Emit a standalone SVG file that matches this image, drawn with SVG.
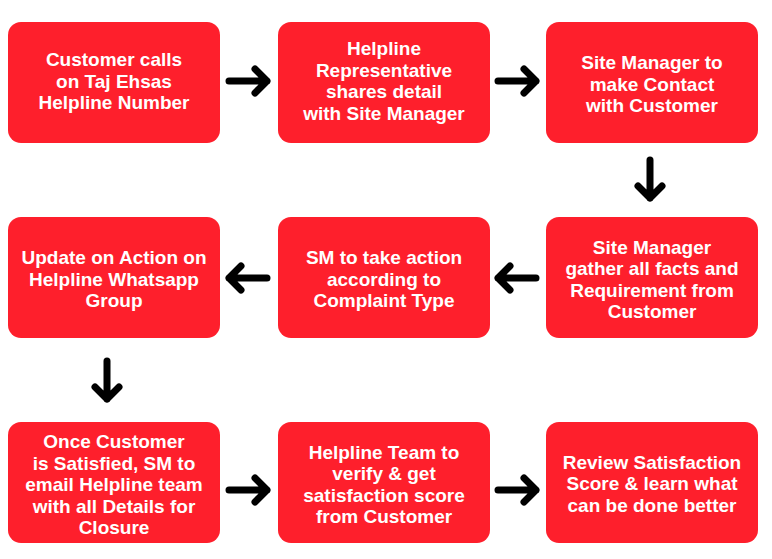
<svg xmlns="http://www.w3.org/2000/svg" width="772" height="559" viewBox="0 0 772 559">
<style>
.box{fill:#FE1F2C;}
.t{font-family:"Liberation Sans",Arial,sans-serif;font-weight:700;font-size:19px;fill:#fff;text-anchor:middle;}
.a{fill:none;stroke:#000;stroke-width:7;stroke-linecap:round;stroke-linejoin:round;}
</style>
<defs>
<path id="ar" class="a" d="M-19,0 H19 M7,-12 L19,0 L7,12"/>
</defs>
<rect width="772" height="559" fill="#fff"/>
<g id="n1"><rect class="box" x="8" y="22" width="212" height="121" rx="13"/>
<text class="t" x="114" y="66">Customer calls</text><text class="t" x="114" y="88">on Taj Ehsas</text><text class="t" x="114" y="109">Helpline Number</text></g>
<g id="n2"><rect class="box" x="278" y="22" width="212" height="121" rx="13"/>
<text class="t" x="384" y="55">Helpline</text><text class="t" x="384" y="77">Representative</text><text class="t" x="384" y="98">shares detail</text><text class="t" x="384" y="120">with Site Manager</text></g>
<g id="n3"><rect class="box" x="546" y="22" width="212" height="121" rx="13"/>
<text class="t" x="652" y="69">Site Manager to</text><text class="t" x="652" y="91">make Contact</text><text class="t" x="652" y="112">with Customer</text></g>
<g id="n4"><rect class="box" x="546" y="217" width="212" height="121" rx="13"/>
<text class="t" x="652" y="254">Site Manager</text><text class="t" x="652" y="275">gather all facts and</text><text class="t" x="652" y="297">Requirement from</text><text class="t" x="652" y="318">Customer</text></g>
<g id="n5"><rect class="box" x="278" y="217" width="212" height="121" rx="13"/>
<text class="t" x="384" y="264">SM to take action</text><text class="t" x="384" y="286">according to</text><text class="t" x="384" y="307">Complaint Type</text></g>
<g id="n6"><rect class="box" x="8" y="217" width="212" height="121" rx="13"/>
<text class="t" x="114" y="264">Update on Action on</text><text class="t" x="114" y="286">Helpline Whatsapp</text><text class="t" x="114" y="307">Group</text></g>
<g id="n7"><rect class="box" x="8" y="422" width="212" height="121" rx="13"/>
<text class="t" x="114" y="448">Once Customer</text><text class="t" x="114" y="470">is Satisfied, SM to</text><text class="t" x="114" y="491">email Helpline team</text><text class="t" x="114" y="513">with all Details for</text><text class="t" x="114" y="534">Closure</text></g>
<g id="n8"><rect class="box" x="278" y="422" width="212" height="121" rx="13"/>
<text class="t" x="384" y="459">Helpline Team to</text><text class="t" x="384" y="480">verify &amp; get</text><text class="t" x="384" y="502">satisfaction score</text><text class="t" x="384" y="523">from Customer</text></g>
<g id="n9"><rect class="box" x="546" y="422" width="212" height="121" rx="13"/>
<text class="t" x="652" y="469">Review Satisfaction</text><text class="t" x="652" y="490">Score &amp; learn what</text><text class="t" x="652" y="512">can be done better</text></g>
<g id="connectors">
<use href="#ar" transform="translate(248,81)"/>
<use href="#ar" transform="translate(517,81)"/>
<use href="#ar" transform="translate(650,179) rotate(90)"/>
<use href="#ar" transform="translate(517,278) rotate(180)"/>
<use href="#ar" transform="translate(248,278) rotate(180)"/>
<use href="#ar" transform="translate(107,380) rotate(90)"/>
<use href="#ar" transform="translate(248,490)"/>
<use href="#ar" transform="translate(517,490)"/>
</g>
</svg>
